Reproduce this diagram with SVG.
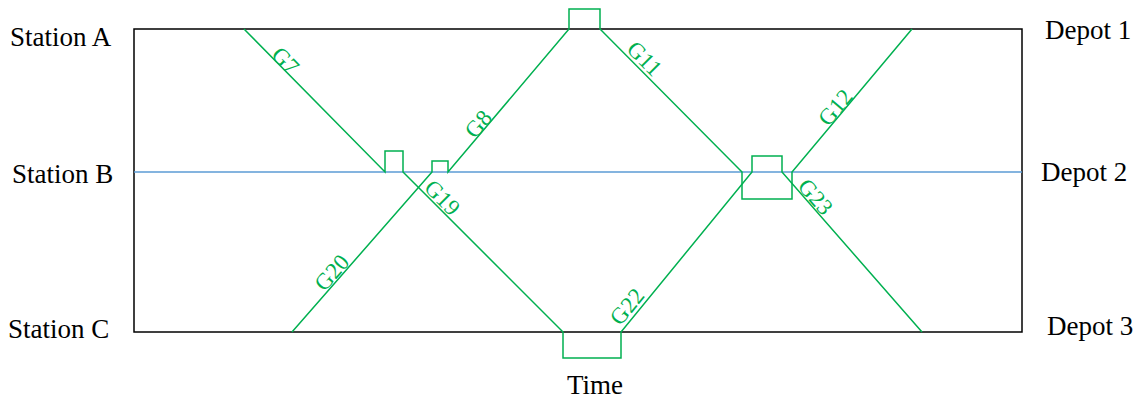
<svg xmlns="http://www.w3.org/2000/svg" width="1142" height="403" viewBox="0 0 1142 403">
  <style>
    .frame { fill: none; stroke: #000; stroke-width: 1.5; }
    .mid { stroke: #5b9bd5; stroke-width: 1.3; }
    .run { fill: none; stroke: #00b050; stroke-width: 1.5; stroke-linejoin: miter; }
    .lbl { font-family: "Liberation Serif", "Times New Roman", serif; font-size: 27px; fill: #000; }
    .tag { font-family: "Liberation Serif", "Times New Roman", serif; font-size: 23px; fill: #00b050; text-anchor: middle; }
  </style>
  <rect width="1142" height="403" fill="#fff"/>

  <!-- station axis frame -->
  <g id="axes">
    <rect class="frame" x="134" y="29" width="888" height="303"/>
    <line class="mid" x1="134" y1="172" x2="1022" y2="172"/>
  </g>

  <!-- station / depot names -->
  <g id="station-a"><text class="lbl" x="10" y="46">Station A</text></g>
  <g id="station-b"><text class="lbl" x="12" y="183">Station B</text></g>
  <g id="station-c"><text class="lbl" x="8" y="338">Station C</text></g>
  <g id="depot-1"><text class="lbl" x="1045" y="39">Depot 1</text></g>
  <g id="depot-2"><text class="lbl" x="1041" y="181">Depot 2</text></g>
  <g id="depot-3"><text class="lbl" x="1047" y="335">Depot 3</text></g>
  <g id="time-axis"><text class="lbl" x="567" y="394">Time</text></g>

  <!-- train runs with dwell boxes -->
  <g id="runs">
    <path class="run" d="M244,29 L385,172 L385,151 L403,151 L403,172 L563,332 L563,358 L621,358 L621,332 L752,172 L752,156 L782,156 L782,172 L922,332"/>
    <path class="run" d="M292,332 L432,172 L432,161 L448,161 L448,172 L569,29 L569,9 L600,9 L600,29 L742,172 L742,199 L792,199 L792,172 L912,29"/>
  </g>

  <!-- service labels -->
  <g id="service-labels">
    <text class="tag" transform="translate(280,66) rotate(45.4)" y="0">G7</text>
    <text class="tag" transform="translate(484,129) rotate(-49.8)" y="0">G8</text>
    <text class="tag" transform="translate(637,66) rotate(45.2)" y="-3">G11</text>
    <text class="tag" transform="translate(842,113) rotate(-50)" y="-1">G12</text>
    <text class="tag" transform="translate(435.5,204.5) rotate(45)" y="-2">G19</text>
    <text class="tag" transform="translate(339,279) rotate(-48.8)" y="-2">G20</text>
    <text class="tag" transform="translate(636,314) rotate(-50.7)" y="-4">G22</text>
    <text class="tag" transform="translate(809,202.5) rotate(48.8)" y="-1">G23</text>
  </g>
</svg>
